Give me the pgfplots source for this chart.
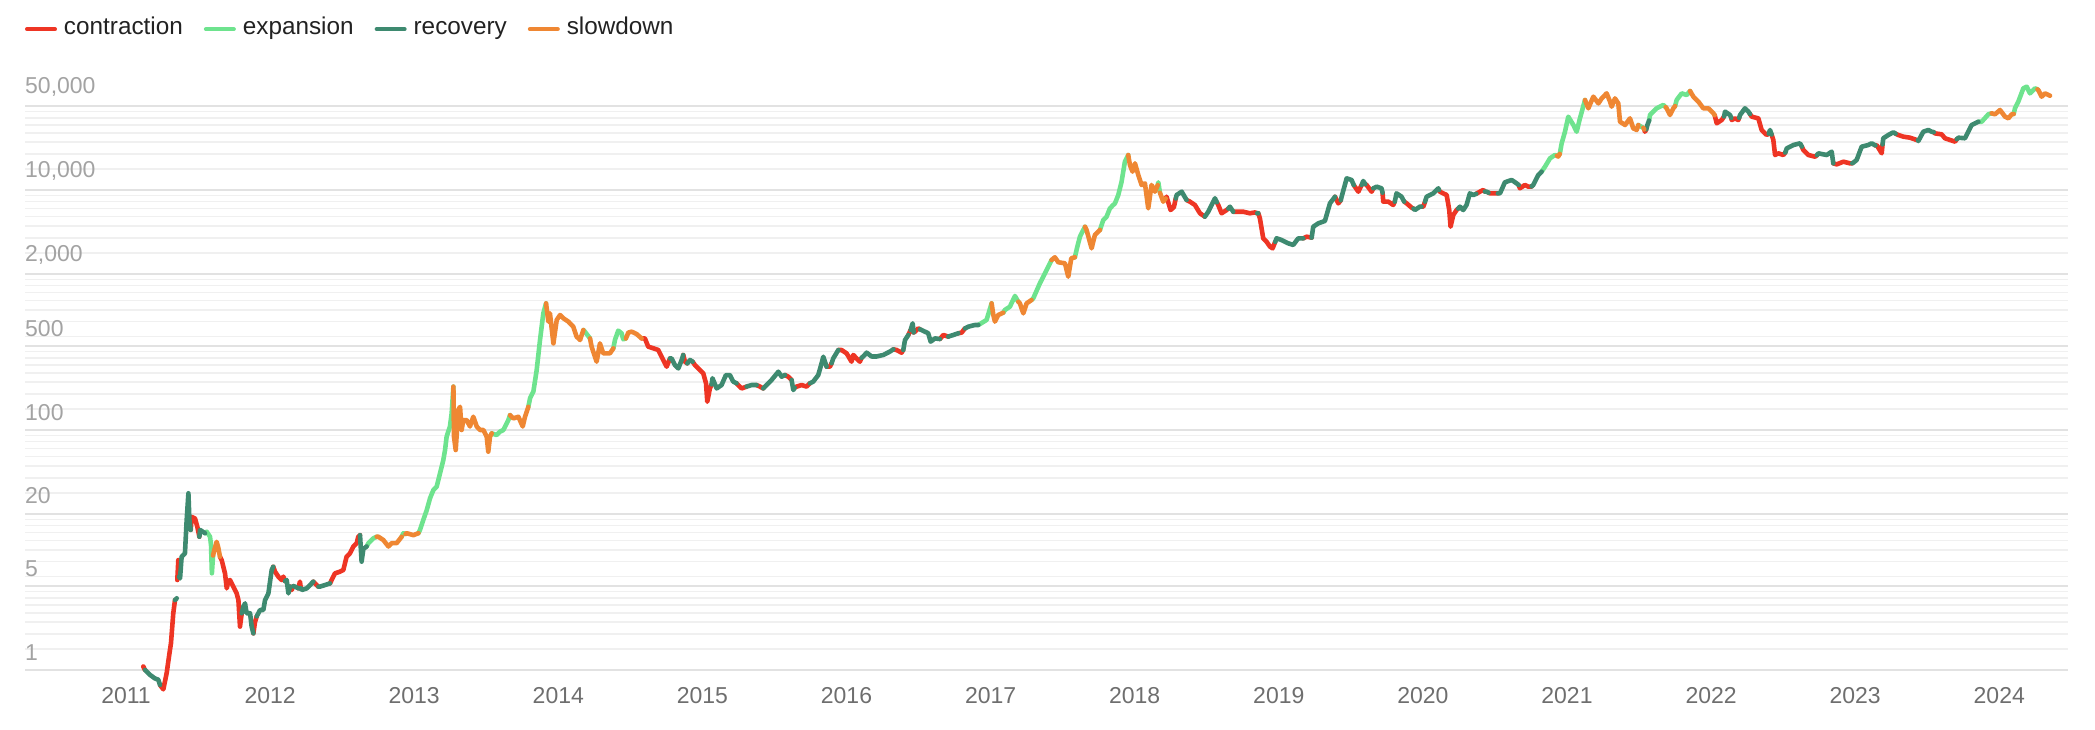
\documentclass[border=0pt]{standalone}
\usepackage{pgfplots}
\pgfplotsset{compat=1.18}
\usepackage{fontspec}
\setmainfont{Liberation Sans}
\definecolor{ccon}{HTML}{EE3524}
\definecolor{cexp}{HTML}{6EE38E}
\definecolor{crec}{HTML}{3E8A70}
\definecolor{cslo}{HTML}{EF8733}
\definecolor{gmaj}{HTML}{E2E2E2}
\definecolor{gmin}{HTML}{F0F0F0}
\definecolor{ylab}{HTML}{A3A3A3}
\definecolor{xlab}{HTML}{6E6E6E}
\definecolor{ltxt}{HTML}{222222}
\begin{document}
\begin{tikzpicture}
\path[use as bounding box] (-25pt,-29pt) rectangle (2070pt,700pt);
\begin{axis}[
  scale only axis, width=2043pt, height=630pt,
  xmin=2010.299, xmax=2024.477,
  ymode=log, ymin=0.5623, ymax=100000,
  axis line style={draw=none},
  tick style={draw=none},
  major tick length=0pt, minor tick length=0pt,
  xtick={2011,2012,2013,2014,2015,2016,2017,2018,2019,2020,2021,2022,2023,2024},
  xticklabels={2011,2012,2013,2014,2015,2016,2017,2018,2019,2020,2021,2022,2023,2024},
  ytick={1,5,20,100,500,2000,10000,50000},
  yticklabels={1,5,20,100,500,{2,000},{10,000},{50,000}},
  minor ytick={1.5,2,2.5,3,3.5,4,4.5,6,8,10,12,14,16,18,30,40,50,60,70,80,90,150,200,250,300,350,400,450,600,800,1000,1200,1400,1600,1800,3000,4000,5000,6000,7000,8000,9000,15000,20000,25000,30000,35000,40000,45000},
  ymajorgrids, yminorgrids,
  major grid style={line width=1.6pt, draw=gmaj},
  minor grid style={line width=1.6pt, draw=gmin},
  yticklabel style={anchor=south west, inner sep=0pt, xshift=0pt, yshift=9.5pt, font=\fontsize{23}{27}\selectfont, text=ylab},
  xticklabel style={anchor=center, inner sep=0pt, yshift=4pt, font=\fontsize{23}{27}\selectfont, text=xlab},
  unbounded coords=jump,
  legend columns=4,
  legend style={at={(rel axis cs:0,1)}, anchor=west, yshift=38pt, draw=none, fill=none, inner sep=0pt, outer sep=0pt,
    font=\fontsize{24.3}{29}\selectfont, text=ltxt, nodes={inner sep=0pt, text height=0.72em, text depth=0.22em},
    /tikz/every odd column/.append style={column sep=7pt},
    /tikz/every even column/.append style={column sep=21pt}},
  legend image code/.code={\draw[#1, line width=4pt, line cap=round] (2pt,0.3em) -- (30pt,0.3em);},
  every axis plot/.append style={line width=4.6pt, line join=round, line cap=round, no markers},
]
\addplot[ccon] coordinates {
(2011.120,1.07) (2011.132,1.0) (2011.132,nan)
(2011.236,0.75) (2011.259,0.69) (2011.282,0.94) (2011.305,1.47) (2011.312,1.67) (2011.328,2.97) (2011.340,3.83) (2011.340,nan)
(2011.356,5.62) (2011.363,8.25) (2011.368,6.0) (2011.368,nan)
(2011.449,14.7) (2011.456,18.9) (2011.479,18.3) (2011.495,15.6) (2011.509,12.9) (2011.509,nan)
(2011.652,8.8) (2011.664,8.25) (2011.687,6.39) (2011.699,4.79) (2011.710,5.5) (2011.722,5.62) (2011.745,4.95) (2011.768,4.35) (2011.780,3.83) (2011.791,2.30) (2011.803,2.97) (2011.803,nan)
(2011.884,2.02) (2011.895,2.5) (2011.907,2.8) (2011.907,nan)
(2012.022,7.26) (2012.034,6.6) (2012.057,6.0) (2012.080,5.62) (2012.092,6.0) (2012.104,5.5) (2012.104,nan)
(2012.138,4.95) (2012.150,4.64) (2012.160,5.0) (2012.160,nan)
(2012.196,4.79) (2012.207,5.45) (2012.213,4.8) (2012.213,nan)
(2012.300,5.45) (2012.335,4.95) (2012.335,nan)
(2012.416,5.27) (2012.427,5.62) (2012.450,6.39) (2012.485,6.6) (2012.508,6.81) (2012.531,8.8) (2012.554,9.38) (2012.578,10.7) (2012.601,11.4) (2012.612,12.9) (2012.624,13.3) (2012.624,nan)
(2014.578,580) (2014.601,580) (2014.624,495) (2014.659,480) (2014.694,464) (2014.728,383) (2014.752,337) (2014.775,395) (2014.775,nan)
(2014.867,422) (2014.879,371) (2014.895,359) (2014.895,nan)
(2014.932,371) (2014.948,348) (2014.983,316) (2015.006,297) (2015.025,245) (2015.034,172) (2015.052,222) (2015.064,240) (2015.064,nan)
(2015.237,245) (2015.272,222) (2015.307,230) (2015.307,nan)
(2015.376,237) (2015.399,230) (2015.422,222) (2015.422,nan)
(2015.573,287) (2015.596,278) (2015.619,261) (2015.619,nan)
(2015.640,225) (2015.654,230) (2015.689,237) (2015.723,230) (2015.746,245) (2015.746,nan)
(2015.862,337) (2015.885,337) (2015.897,360) (2015.897,nan)
(2015.943,464) (2015.966,464) (2016.001,435) (2016.035,371) (2016.047,422) (2016.070,395) (2016.093,371) (2016.105,400) (2016.105,nan)
(2016.325,470) (2016.348,464) (2016.382,441) (2016.394,464) (2016.394,nan)
(2016.429,619) (2016.445,681) (2016.445,nan)
(2016.466,650) (2016.475,659) (2016.498,703) (2016.510,690) (2016.510,nan)
(2016.648,573) (2016.672,619) (2016.706,600) (2016.706,nan)
(2016.776,640) (2016.799,648) (2016.822,703) (2016.822,nan)
(2018.215,8500) (2018.221,8790) (2018.249,6813) (2018.272,7200) (2018.285,8500) (2018.285,nan)
(2018.360,8254) (2018.383,8000) (2018.418,7499) (2018.453,6396) (2018.487,5995) (2018.487,nan)
(2018.570,7900) (2018.580,7500) (2018.603,6396) (2018.638,6813) (2018.650,7000) (2018.650,nan)
(2018.684,6591) (2018.707,6591) (2018.753,6591) (2018.800,6396) (2018.834,6500) (2018.850,6400) (2018.850,nan)
(2018.858,6396) (2018.869,5800) (2018.892,3955) (2018.915,3707) (2018.939,3372) (2018.957,3266) (2018.975,3700) (2018.975,nan)
(2019.170,3955) (2019.193,4084) (2019.228,4006) (2019.228,nan)
(2019.390,8790) (2019.413,7740) (2019.430,8200) (2019.430,nan)
(2019.520,11000) (2019.528,10660) (2019.552,9680) (2019.575,11010) (2019.575,nan)
(2019.600,11200) (2019.609,11010) (2019.644,9680) (2019.656,10330) (2019.656,nan)
(2019.720,9500) (2019.725,8000) (2019.760,8000) (2019.794,7499) (2019.805,8000) (2019.805,nan)
(2019.870,8000) (2019.887,7742) (2019.922,7127) (2019.935,7000) (2019.935,nan)
(2019.990,7260) (2020.003,7260) (2020.015,8000) (2020.015,nan)
(2020.112,10000) (2020.118,9680) (2020.141,9380) (2020.165,9085) (2020.183,6800) (2020.192,4945) (2020.211,6194) (2020.234,6813) (2020.245,7000) (2020.245,nan)
(2020.370,9300) (2020.396,9680) (2020.419,10000) (2020.430,9700) (2020.430,nan)
(2020.455,9500) (2020.465,9380) (2020.500,9380) (2020.520,9380) (2020.520,nan)
(2020.665,11000) (2020.673,10330) (2020.708,11010) (2020.731,10660) (2020.755,10700) (2020.755,nan)
(2021.536,32000) (2021.541,30600) (2021.550,32000) (2021.550,nan)
(2022.025,42000) (2022.039,35970) (2022.074,38330) (2022.090,41000) (2022.090,nan)
(2022.140,40000) (2022.143,38330) (2022.166,39540) (2022.189,38330) (2022.195,40000) (2022.195,nan)
(2022.270,43000) (2022.282,40840) (2022.328,39540) (2022.351,31620) (2022.386,28730) (2022.400,29500) (2022.400,nan)
(2022.420,29000) (2022.432,26100) (2022.444,19570) (2022.467,20210) (2022.501,19570) (2022.515,20500) (2022.515,nan)
(2022.630,23000) (2022.640,21540) (2022.675,19570) (2022.721,18950) (2022.735,19500) (2022.735,nan)
(2022.848,16680) (2022.872,16360) (2022.918,17210) (2022.964,16680) (2022.980,16700) (2022.980,nan)
(2023.140,23500) (2023.149,23710) (2023.184,20220) (2023.190,24000) (2023.190,nan)
(2023.280,29500) (2023.299,28730) (2023.334,27830) (2023.380,27290) (2023.427,26100) (2023.435,26000) (2023.435,nan)
(2023.545,30300) (2023.554,29650) (2023.600,29100) (2023.623,26980) (2023.658,26100) (2023.693,25290) (2023.705,26500)
};
\addlegendentry{contraction}
\addplot[cexp] coordinates {
(2011.548,13.8) (2011.560,14.2) (2011.583,12.9) (2011.590,11.0) (2011.596,6.4) (2011.604,9.0) (2011.604,nan)
(2012.670,10.7) (2012.682,11.4) (2012.716,12.5) (2012.740,12.9) (2012.740,nan)
(2012.913,12.9) (2012.925,13.8) (2012.940,13.6) (2012.940,nan)
(2013.029,13.8) (2013.040,14.7) (2013.063,17.8) (2013.087,21.5) (2013.110,27.0) (2013.133,31.6) (2013.156,33.7) (2013.179,43.5) (2013.202,56.2) (2013.214,68.1) (2013.225,88.0) (2013.248,107) (2013.260,138) (2013.272,230) (2013.272,nan)
(2013.538,93.8) (2013.572,90.9) (2013.595,96.8) (2013.619,100) (2013.653,121) (2013.665,133) (2013.665,nan)
(2013.792,156) (2013.804,184) (2013.827,209) (2013.850,316) (2013.873,562) (2013.896,938) (2013.915,1136) (2013.915,nan)
(2014.174,681) (2014.185,659) (2014.220,580) (2014.220,nan)
(2014.382,479) (2014.393,562) (2014.416,673) (2014.439,640) (2014.451,570) (2014.469,580) (2014.469,nan)
(2016.915,750) (2016.972,826) (2017.007,1136) (2017.007,nan)
(2017.088,950) (2017.099,1000) (2017.134,1066) (2017.169,1309) (2017.192,1172) (2017.192,nan)
(2017.284,1211) (2017.296,1250) (2017.342,1668) (2017.389,2154) (2017.423,2610) (2017.423,nan)
(2017.585,2750) (2017.600,3300) (2017.620,4084) (2017.655,4945) (2017.655,nan)
(2017.759,4642) (2017.782,5623) (2017.805,5995) (2017.828,7031) (2017.851,7499) (2017.863,7742) (2017.886,9085) (2017.909,11720) (2017.932,17210) (2017.955,19570) (2017.955,nan)
(2018.160,11000) (2018.164,11590) (2018.175,9500) (2018.175,nan)
(2020.824,14220) (2020.847,15630) (2020.882,18360) (2020.916,19570) (2020.930,19300) (2020.930,nan)
(2020.950,20000) (2020.963,24490) (2020.986,30600) (2021.009,40840) (2021.025,38000) (2021.044,34810) (2021.067,30600) (2021.090,39540) (2021.125,56230) (2021.125,nan)
(2021.495,34810) (2021.518,33500) (2021.530,33000) (2021.530,nan)
(2021.570,38000) (2021.576,42170) (2021.622,47930) (2021.669,51100) (2021.685,49000) (2021.685,nan)
(2021.750,50000) (2021.761,56230) (2021.796,63900) (2021.831,61900) (2021.854,66830) (2021.854,nan)
(2023.855,37070) (2023.878,37070) (2023.924,42730) (2023.947,43550) (2023.947,nan)
(2024.100,43000) (2024.109,47930) (2024.132,54450) (2024.167,70310) (2024.190,72610) (2024.213,63900) (2024.248,70310) (2024.265,69000)
};
\addlegendentry{expansion}
\addplot[crec] coordinates {
(2011.132,1.0) (2011.167,0.91) (2011.201,0.85) (2011.224,0.83) (2011.236,0.75) (2011.236,nan)
(2011.340,3.83) (2011.352,3.96) (2011.352,nan)
(2011.368,6.0) (2011.375,5.8) (2011.386,8.8) (2011.409,9.38) (2011.421,17.8) (2011.433,29.7) (2011.440,17.8) (2011.449,14.7) (2011.449,nan)
(2011.509,12.9) (2011.514,14.7) (2011.548,13.8) (2011.548,nan)
(2011.803,2.97) (2011.814,3.37) (2011.826,3.59) (2011.837,2.97) (2011.861,2.97) (2011.872,2.30) (2011.884,2.02) (2011.884,nan)
(2011.907,2.8) (2011.930,3.16) (2011.953,3.16) (2011.965,3.83) (2011.988,4.35) (2012.011,6.81) (2012.022,7.26) (2012.022,nan)
(2012.104,5.5) (2012.115,5.62) (2012.127,4.35) (2012.138,4.95) (2012.138,nan)
(2012.160,5.0) (2012.173,4.95) (2012.196,4.79) (2012.196,nan)
(2012.213,4.8) (2012.219,4.64) (2012.254,4.79) (2012.277,5.11) (2012.300,5.45) (2012.300,nan)
(2012.335,4.95) (2012.346,4.95) (2012.416,5.27) (2012.416,nan)
(2012.624,13.3) (2012.635,8.0) (2012.647,10.2) (2012.670,10.7) (2012.670,nan)
(2014.775,395) (2014.786,395) (2014.809,348) (2014.833,326) (2014.856,383) (2014.867,422) (2014.867,nan)
(2014.895,359) (2014.914,383) (2014.932,371) (2014.932,nan)
(2015.064,240) (2015.070,270) (2015.099,222) (2015.133,237) (2015.163,287) (2015.191,287) (2015.214,253) (2015.237,245) (2015.237,nan)
(2015.307,230) (2015.341,237) (2015.376,237) (2015.376,nan)
(2015.422,222) (2015.446,237) (2015.480,261) (2015.527,306) (2015.550,278) (2015.573,287) (2015.573,nan)
(2015.619,261) (2015.631,215) (2015.640,225) (2015.640,nan)
(2015.746,245) (2015.769,253) (2015.804,287) (2015.827,359) (2015.839,408) (2015.862,337) (2015.862,nan)
(2015.897,360) (2015.908,395) (2015.943,464) (2015.943,nan)
(2016.105,400) (2016.116,410) (2016.140,441) (2016.174,410) (2016.209,410) (2016.255,422) (2016.301,450) (2016.325,470) (2016.325,nan)
(2016.394,464) (2016.406,562) (2016.429,619) (2016.429,nan)
(2016.445,681) (2016.459,774) (2016.466,650) (2016.466,nan)
(2016.510,690) (2016.521,681) (2016.567,640) (2016.584,545) (2016.614,580) (2016.648,573) (2016.648,nan)
(2016.706,600) (2016.741,619) (2016.776,640) (2016.776,nan)
(2016.822,703) (2016.845,726) (2016.891,750) (2016.915,750) (2016.915,nan)
(2018.285,8500) (2018.291,9085) (2018.326,9680) (2018.360,8254) (2018.360,nan)
(2018.487,5995) (2018.511,6600) (2018.557,8530) (2018.570,7900) (2018.570,nan)
(2018.650,7000) (2018.661,7260) (2018.684,6591) (2018.684,nan)
(2018.850,6400) (2018.858,6396) (2018.858,nan)
(2018.975,3700) (2018.985,3955) (2019.019,3831) (2019.066,3593) (2019.100,3483) (2019.135,3955) (2019.170,3955) (2019.170,nan)
(2019.228,4006) (2019.239,4945) (2019.274,5273) (2019.320,5520) (2019.355,7740) (2019.390,8790) (2019.390,nan)
(2019.430,8200) (2019.436,8790) (2019.471,12500) (2019.505,12120) (2019.520,11000) (2019.520,nan)
(2019.575,11010) (2019.586,11880) (2019.600,11200) (2019.600,nan)
(2019.656,10330) (2019.679,10660) (2019.713,10330) (2019.720,9500) (2019.720,nan)
(2019.805,8000) (2019.817,9380) (2019.852,8790) (2019.870,8000) (2019.870,nan)
(2019.935,7000) (2019.945,6813) (2019.979,7262) (2019.990,7260) (2019.990,nan)
(2020.015,8000) (2020.026,8790) (2020.072,9380) (2020.107,10330) (2020.112,10000) (2020.112,nan)
(2020.245,7000) (2020.257,7262) (2020.280,6813) (2020.303,7499) (2020.326,9380) (2020.350,9085) (2020.370,9300) (2020.370,nan)
(2020.430,9700) (2020.442,9680) (2020.455,9500) (2020.455,nan)
(2020.520,9380) (2020.535,9380) (2020.569,11590) (2020.616,12120) (2020.650,11370) (2020.665,11000) (2020.665,nan)
(2020.755,10700) (2020.766,11010) (2020.801,13340) (2020.824,14220) (2020.824,nan)
(2021.550,32000) (2021.558,34810) (2021.570,38000) (2021.570,nan)
(2022.090,41000) (2022.097,44980) (2022.131,42170) (2022.140,40000) (2022.140,nan)
(2022.195,40000) (2022.201,42170) (2022.235,47930) (2022.259,44980) (2022.270,43000) (2022.270,nan)
(2022.400,29500) (2022.409,31620) (2022.420,29000) (2022.420,nan)
(2022.515,20500) (2022.525,22230) (2022.571,23710) (2022.617,24490) (2022.630,23000) (2022.630,nan)
(2022.735,19500) (2022.744,20210) (2022.802,19570) (2022.837,20850) (2022.848,16680) (2022.848,nan)
(2022.980,16700) (2022.987,16900) (2023.010,17780) (2023.045,22960) (2023.091,23710) (2023.114,24500) (2023.140,23500) (2023.140,nan)
(2023.190,24000) (2023.195,26980) (2023.230,28730) (2023.265,30270) (2023.280,29500) (2023.280,nan)
(2023.435,26000) (2023.438,25590) (2023.473,30600) (2023.508,31620) (2023.531,30600) (2023.545,30300) (2023.545,nan)
(2023.705,26500) (2023.716,27290) (2023.762,26980) (2023.785,30600) (2023.808,34810) (2023.855,37070)
};
\addlegendentry{recovery}
\addplot[cslo] coordinates {
(2011.604,9.0) (2011.613,10.0) (2011.629,11.7) (2011.640,10.5) (2011.652,8.8) (2011.652,nan)
(2012.740,12.9) (2012.751,12.9) (2012.786,12.1) (2012.821,10.7) (2012.844,11.4) (2012.878,11.4) (2012.913,12.9) (2012.913,nan)
(2012.940,13.6) (2012.948,13.8) (2012.994,13.3) (2013.029,13.8) (2013.029,nan)
(2013.272,230) (2013.276,88) (2013.288,68.1) (2013.306,147) (2013.318,156) (2013.329,100) (2013.341,121) (2013.364,121) (2013.387,107) (2013.410,129) (2013.434,107) (2013.457,100) (2013.480,100) (2013.503,88) (2013.514,66) (2013.526,88) (2013.538,93.8) (2013.538,nan)
(2013.665,133) (2013.688,125) (2013.723,129) (2013.753,107) (2013.769,129) (2013.792,156) (2013.792,nan)
(2013.915,1136) (2013.931,800) (2013.942,938) (2013.966,527) (2013.989,826) (2014.012,908) (2014.035,853) (2014.070,800) (2014.104,726) (2014.127,600) (2014.151,562) (2014.174,681) (2014.174,nan)
(2014.220,580) (2014.231,495) (2014.266,371) (2014.289,527) (2014.312,435) (2014.358,435) (2014.382,479) (2014.382,nan)
(2014.469,580) (2014.486,648) (2014.509,660) (2014.543,631) (2014.578,580) (2014.578,nan)
(2017.007,1136) (2017.019,908) (2017.030,800) (2017.053,908) (2017.088,950) (2017.088,nan)
(2017.192,1172) (2017.203,1136) (2017.227,938) (2017.250,1136) (2017.284,1211) (2017.284,nan)
(2017.423,2610) (2017.446,2750) (2017.470,2500) (2017.516,2450) (2017.539,1896) (2017.560,2700) (2017.585,2750) (2017.585,nan)
(2017.655,4945) (2017.666,4642) (2017.701,3266) (2017.724,4217) (2017.759,4642) (2017.759,nan)
(2017.955,19570) (2017.967,16150) (2017.985,14220) (2018.002,16680) (2018.025,13340) (2018.048,11010) (2018.071,11370) (2018.094,7031) (2018.117,11010) (2018.140,9680) (2018.160,11000) (2018.160,nan)
(2018.175,9500) (2018.198,8000) (2018.215,8500) (2018.215,nan)
(2020.930,19300) (2020.939,19000) (2020.950,20000) (2020.950,nan)
(2021.125,56230) (2021.148,47930) (2021.183,59950) (2021.218,52700) (2021.241,58000) (2021.275,63900) (2021.299,54450) (2021.310,49450) (2021.333,58000) (2021.356,52700) (2021.368,37070) (2021.403,34810) (2021.437,39540) (2021.460,32650) (2021.484,31620) (2021.495,34810) (2021.495,nan)
(2021.530,33000) (2021.536,32000) (2021.536,nan)
(2021.685,49000) (2021.692,47930) (2021.715,42170) (2021.738,47930) (2021.750,50000) (2021.750,nan)
(2021.854,66830) (2021.877,59950) (2021.912,54450) (2021.946,47930) (2021.981,47930) (2022.016,43550) (2022.025,42000) (2022.025,nan)
(2023.947,43550) (2023.970,42730) (2024.005,46420) (2024.040,40840) (2024.063,39540) (2024.086,42730) (2024.100,43000) (2024.100,nan)
(2024.265,69000) (2024.271,68060) (2024.294,59950) (2024.317,63900) (2024.352,61050)
};
\addlegendentry{slowdown}
\end{axis}
\end{tikzpicture}
\end{document}
